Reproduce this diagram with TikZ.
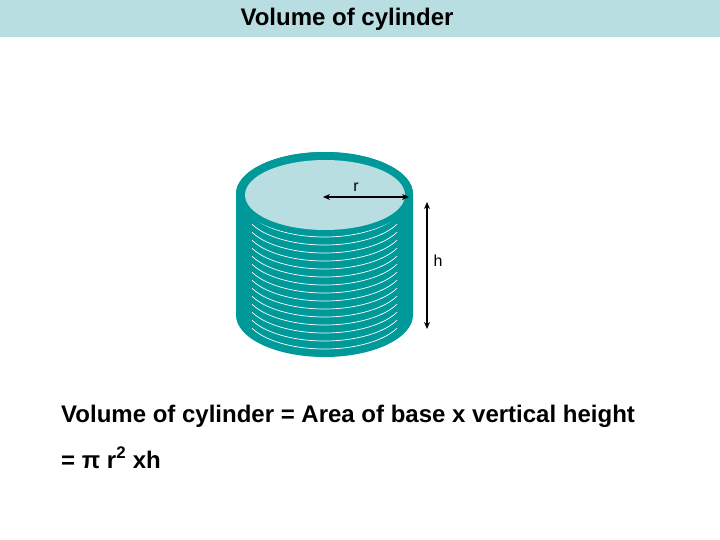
\documentclass[tikz,border=0pt]{standalone}
\usepackage{fontspec}
\setmainfont{Liberation Sans}
\usetikzlibrary{arrows.meta}
\definecolor{teal1}{HTML}{009999}
\definecolor{lite}{HTML}{B8DEE2}
\begin{document}
\begin{tikzpicture}[x=1pt,y=-1pt,
  txt/.style={font=\fontsize{24}{28}\selectfont\bfseries,inner sep=0pt,anchor=base west},
  lbl/.style={font=\fontsize{16}{18}\selectfont,inner sep=1pt},
  dim/.style={line width=1.6pt,black,{Stealth[length=7pt,width=6pt]}-{Stealth[length=7pt,width=6pt]}}]
\useasboundingbox (0,0) rectangle (720,540);
\fill[lite] (0,0) rectangle (720,37);
\node[txt,anchor=base] (title) at (347,26) {Volume of cylinder};
% cylinder body
\fill[teal1] (236,194) -- (236,315) arc[start angle=180,end angle=0,x radius=88.5,y radius=42] -- (413,194) arc[start angle=0,end angle=-180,x radius=88.5,y radius=42] -- cycle;
\foreach \c in {193,201,...,313}{
  \draw[white,line width=0.7pt] (324.5,\c) ++(155:80 and 36) arc[start angle=155,end angle=25,x radius=80,y radius=36];
}
\fill[teal1] (324.5,194) ellipse[x radius=88.5,y radius=42];
\fill[lite] (325,195) ellipse[x radius=80,y radius=35];
\coordinate (c0) at (323,197);
\coordinate (c1) at (409,197);
\draw[dim] (c0) -- (c1);
\node[lbl] (r) at (356,187) {r};
\coordinate (h0) at (427,202);
\coordinate (h1) at (427,329);
\draw[dim] (h0) -- (h1);
\node[lbl] (h) at (438,261) {h};
\node[txt] (f1) at (61,422) {Volume of cylinder = Area of base x vertical height};
\node[txt] (f2) at (61,468) {= π r\textsuperscript{2} xh};
\end{tikzpicture}
\end{document}
